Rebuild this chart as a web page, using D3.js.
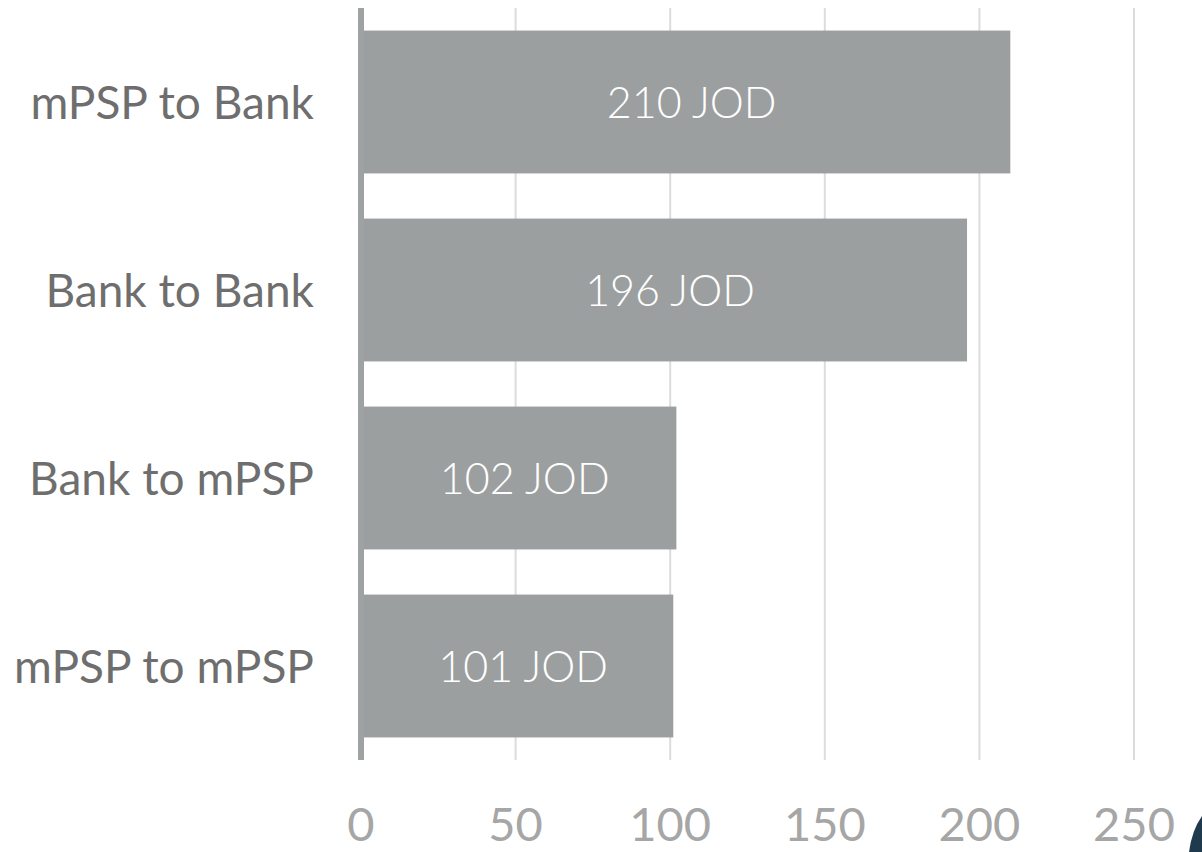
<!DOCTYPE html>
<html lang="en">
<head>
    <meta charset="utf-8">
    <title>Average transfer value by route</title>
    <script src="https://cdn.jsdelivr.net/npm/d3@7"></script>
    <style>
    body { margin: 0; background: #fff; }
    .cat { fill: #6e6e6e; font-family: Lato, sans-serif; font-size: 46px; text-anchor: end; }
    .val { fill: #fff; font-family: Lato, sans-serif; font-weight: 300; font-size: 43px; text-anchor: middle; }
    .tick-lbl { fill: #a6a6a6; font-family: Lato, sans-serif; font-size: 47px; text-anchor: middle; }
    </style>
</head>
<body>
<script>
    //data
    var categories = ['mPSP to Bank', 'Bank to Bank', 'Bank to mPSP', 'mPSP to mPSP'];
    var values = [210, 196, 102, 101];
    var unit = 'JOD';
    var ticks = [0, 50, 100, 150, 200, 250];

    var w = 1202;
    var h = 852;

    var svg = d3.select('body')
        .append('svg')
        .attr('width', w)
        .attr('height', h);

    var x = d3.scaleLinear()
        .domain([0, 250])
        .range([361, 1134]);

    var y = d3.scaleBand()
        .domain(categories)
        .range([8, 760])
        .paddingInner(0.24)
        .paddingOuter(0.12);

    //gridlines
    svg.selectAll('line.grid')
        .data(ticks.slice(1))
        .enter()
        .append('line')
        .attr('class', 'grid')
        .attr('x1', function(d) { return x(d); })
        .attr('x2', function(d) { return x(d); })
        .attr('y1', 8)
        .attr('y2', 760)
        .attr('stroke', '#dcdcdc')
        .attr('stroke-width', 2);

    //bars
    svg.selectAll('rect.bar')
        .data(values)
        .enter()
        .append('rect')
        .attr('class', 'bar')
        .attr('x', x(0))
        .attr('y', function(d, i) { return y(categories[i]); })
        .attr('width', function(d) { return x(d) - x(0); })
        .attr('height', y.bandwidth())
        .attr('fill', '#9c9fa0');

    //zero axis line
    svg.append('line')
        .attr('x1', x(0))
        .attr('x2', x(0))
        .attr('y1', 8)
        .attr('y2', 760)
        .attr('stroke', '#9fa2a3')
        .attr('stroke-width', 6);

    //value labels
    svg.selectAll('text.val')
        .data(values)
        .enter()
        .append('text')
        .attr('class', 'val')
        .attr('x', function(d) { return (x(0) + x(d)) / 2 + 6; })
        .attr('y', function(d, i) { return y(categories[i]) + y.bandwidth() / 2; })
        .attr('dy', '0.38em')
        .text(function(d) { return d + ' ' + unit; });

    //category labels
    svg.selectAll('text.cat')
        .data(categories)
        .enter()
        .append('text')
        .attr('class', 'cat')
        .attr('x', 314)
        .attr('y', function(d) { return y(d) + y.bandwidth() / 2; })
        .attr('dy', '0.36em')
        .text(function(d) { return d; });

    //x tick labels
    svg.selectAll('text.tick-lbl')
        .data(ticks)
        .enter()
        .append('text')
        .attr('class', 'tick-lbl')
        .attr('x', function(d) { return x(d); })
        .attr('y', 841)
        .text(function(d) { return d; });

    //logo corner
    svg.append('path')
        .attr('d', 'M1189,852 Q1192,830 1202,816 L1202,852 Z')
        .attr('fill', '#1f3a4d');
</script>
</body>
</html>
